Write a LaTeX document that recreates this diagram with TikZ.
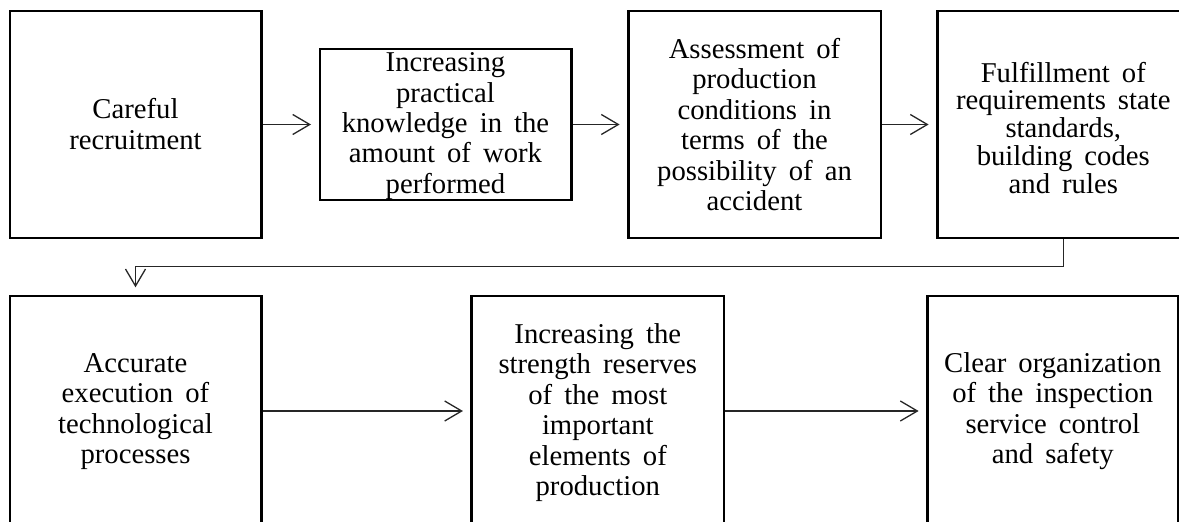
\documentclass[tikz,border=0pt]{standalone}
\usepackage{fontspec}
\setmainfont{Liberation Serif}[WordSpace=1.68]
\usetikzlibrary{arrows.meta}
\begin{document}
\begin{tikzpicture}[x=1pt,y=-1pt,
  stepbox/.style={draw=black, line width=2.4pt, inner sep=0pt, fill=none},
  boxtext/.style={align=center, inner sep=0pt, font=\fontsize{28.7}{30.4}\selectfont},
  link/.style={draw=black!85, line width=1.3pt, line join=miter,
    -{Straight Barb[length=17pt,width=20pt,line width=1.3pt]}, shorten >=7.5pt}]
\useasboundingbox (0,0) rectangle (1179,522);
\clip (0,0) rectangle (1179,522);
% boxes
\node[stepbox, minimum width=251.6pt, minimum height=227pt] (b1) at (135.5,124.5) {};
\node[stepbox, minimum width=251.6pt, minimum height=151.1pt] (b2) at (445.5,124.5) {};
\node[stepbox, minimum width=252.4pt, minimum height=227pt] (b3) at (754.5,124.5) {};
\node[stepbox, minimum width=252pt, minimum height=227pt] (b4) at (1063.3,124.5) {};
\node[stepbox, minimum width=251.6pt, minimum height=230pt] (b5) at (135.5,411) {};
\node[stepbox, minimum width=252.3pt, minimum height=230pt] (b6) at (597.8,411) {};
\node[stepbox, minimum width=251pt, minimum height=230pt] (b7) at (1052.8,411) {};
% texts
\node[boxtext] (t1) at (135.5,124) {Careful\\recruitment};
\node[boxtext] (t2) at (445.5,126) {Increasing\\practical\\knowledge in the\\amount of work\\performed};
\node[boxtext] (t3) at (754.5,124.5) {Assessment of\\production\\conditions in\\terms of the\\possibility of an\\accident};
\node[boxtext, font=\fontsize{28.7}{27.8}\selectfont] (t4) at (1063.3,127.7) {Fulfillment of\\requirements state\\standards,\\building codes\\and rules};
\node[boxtext] (t5) at (135.5,411.5) {Accurate\\execution of\\technological\\processes};
\node[boxtext] (t6) at (597.8,412.5) {Increasing the\\strength reserves\\of the most\\important\\elements of\\production};
\node[boxtext] (t7) at (1052.8,411) {Clear organization\\of the inspection\\service control\\and safety};
% connectors
\coordinate (bend) at (600,266.7);
\draw[link] (b1.east) -- (b2.west);
\draw[link] (b2.east) -- (b3.west);
\draw[link] (b3.east) -- (b4.west);
\draw[link] (b4.south) |- (bend) -| (b5.north);
\draw[link] (b5.east) -- (b6.west);
\draw[link] (b6.east) -- (b7.west);
\end{tikzpicture}
\end{document}
